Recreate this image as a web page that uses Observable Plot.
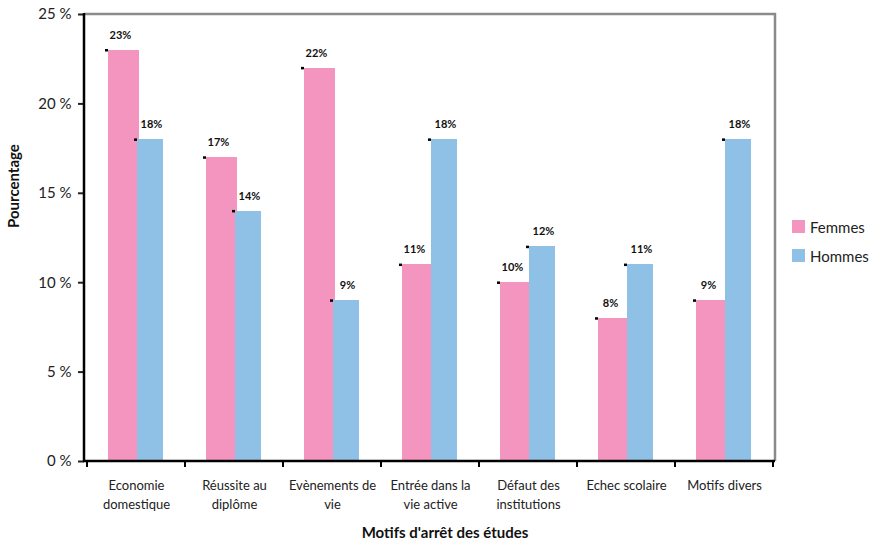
<!DOCTYPE html>
<html>
<head>
<meta charset="utf-8">
<script src="https://cdn.jsdelivr.net/npm/d3@7"></script>
<script src="https://cdn.jsdelivr.net/npm/@observablehq/plot@0.6"></script>
<style>
  body { margin: 0; background: #fff; font-family: Lato, "Open Sans", sans-serif; }
  #wrap { position: relative; width: 882px; height: 541px; }
  .legend { position: absolute; left: 792px; top: 212px; font-size: 15px; color: #222; }
  .legend div { display: flex; align-items: center; height: 29px; }
  .legend span.sw { width: 13px; height: 13px; margin-right: 5px; display: inline-block; }
</style>
</head>
<body>
<div id="wrap"></div>
<script>
// Reasons for leaving school, share of each by sex
const categories = ["Economie domestique", "Réussite au diplôme", "Evènements de vie", "Entrée dans la vie active", "Défaut des institutions", "Echec scolaire", "Motifs divers"];
const tickLabels = ["Economie\ndomestique", "Réussite au\ndiplôme", "Evènements de\nvie", "Entrée dans la\nvie active", "Défaut des\ninstitutions", "Echec scolaire", "Motifs divers"];
const femmes = [23, 17, 22, 11, 10, 8, 9];
const hommes = [18, 14, 9, 18, 12, 11, 18];
const seriesNames = ["Femmes", "Hommes"];
const seriesColors = ["#f395be", "#8fc0e6"];
const yTicks = [0, 5, 10, 15, 20, 25];

const rowsF = categories.map((c, i) => ({cat: c, serie: seriesNames[0], value: femmes[i]}));
const rowsH = categories.map((c, i) => ({cat: c, serie: seriesNames[1], value: hommes[i]}));

// Left axis line, gray top/right border and the category boundary ticks
function frameLines(index, scales, values, dim) {
  const x0 = dim.marginLeft, x1 = dim.width - dim.marginRight;
  const yb = scales.y(0), yt = scales.y(25);
  const step = scales.x(categories[1]) - scales.x(categories[0]);
  const g = d3.create("svg:g").attr("fill", "none");
  g.append("path").attr("stroke", "#8a8a8a").attr("stroke-width", 2.5)
    .attr("d", `M${x0},${yt}H${x1}V${yb}`);
  g.append("path").attr("stroke", "#000").attr("stroke-width", 2.5)
    .attr("d", `M${x0},${yt - 1}V${yb}H${x1}`);
  const bounds = categories.map(c => scales.x(c)).concat([scales.x(categories[categories.length - 1]) + step]);
  g.append("path").attr("stroke", "#000").attr("stroke-width", 2)
    .attr("d", bounds.map(b => `M${b},${yb}v6`).join(""));
  return g.node();
}

const chart = Plot.plot({
  width: 882,
  height: 541,
  marginLeft: 84,
  marginRight: 107,
  marginTop: 14,
  marginBottom: 80,
  style: {fontFamily: "Lato, 'Open Sans', sans-serif", color: "#222", background: "#fff"},
  x: {type: "band", domain: categories, padding: 0, axis: null},
  y: {domain: [0, 25], axis: null},
  marks: [
    // the pink bar runs slightly under the blue one so no seam shows between them
    Plot.barY(rowsF, {x: "cat", y: "value", fill: seriesColors[0], insetLeft: 21, insetRight: 46, shapeRendering: "crispEdges"}),
    Plot.barY(rowsH, {x: "cat", y: "value", fill: seriesColors[1], insetLeft: 49.5, insetRight: 22, shapeRendering: "crispEdges"}),
    Plot.tickY(rowsF, {x: "cat", y: "value", stroke: "#000", strokeWidth: 2.5, insetLeft: 18, insetRight: 77}),
    Plot.tickY(rowsH, {x: "cat", y: "value", stroke: "#000", strokeWidth: 2.5, insetLeft: 47, insetRight: 48}),
    Plot.text(rowsF, {x: "cat", y: "value", text: d => d.value + "%", dx: -16, dy: -15, fontWeight: "bold", fontSize: 11, fill: "#111"}),
    Plot.text(rowsH, {x: "cat", y: "value", text: d => d.value + "%", dx: 15, dy: -15, fontWeight: "bold", fontSize: 11, fill: "#111"}),
    Plot.axisY({ticks: yTicks, tickFormat: d => d + " %", tickSize: 6, tickPadding: 7, fontSize: 15, label: null, strokeWidth: 2}),
    Plot.axisX({tickSize: 0, tickPadding: 15, fontSize: 13, lineHeight: 1.45, tickFormat: (d, i) => tickLabels[categories.indexOf(d)], label: null}),
    frameLines,
    Plot.text(["Motifs d'arrêt des études"], {frameAnchor: "bottom", dx: 15, dy: 76, fontWeight: "bold", fontSize: 15, fill: "#111"}),
    Plot.text(["Pourcentage"], {frameAnchor: "left", dx: -70, dy: -10, rotate: -90, fontWeight: "bold", fontSize: 15, fill: "#111"})
  ]
});

const wrap = document.getElementById("wrap");
wrap.appendChild(chart);

const legend = document.createElement("div");
legend.className = "legend";
seriesNames.forEach((name, i) => {
  const row = document.createElement("div");
  const sw = document.createElement("span");
  sw.className = "sw";
  sw.style.background = seriesColors[i];
  row.appendChild(sw);
  row.appendChild(document.createTextNode(name));
  legend.appendChild(row);
});
wrap.appendChild(legend);
</script>
</body>
</html>
